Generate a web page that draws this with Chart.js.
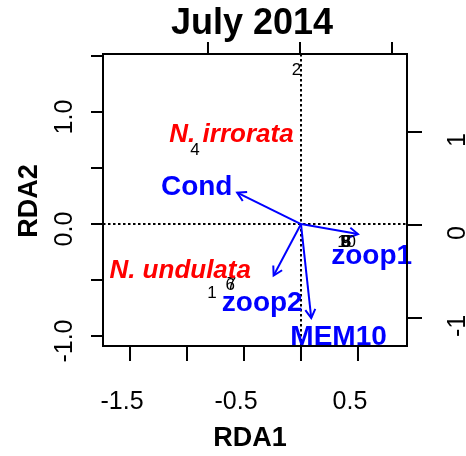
<!DOCTYPE html>
<html>
<head>
  <title>RDA biplot - July 2014</title>
  <script src="https://cdn.jsdelivr.net/npm/chart.js"></script>
  <style>
    body { margin: 0; background: #fff; }
    canvas { display: block; }
  </style>
</head>
<body>
  <canvas id="rdaChart" width="466" height="456"></canvas>

  <script>
    // site scores (RDA1, RDA2)
    const siteLabels = ["1", "2", "3", "4", "5", "6", "7", "8", "9", "10"];
    const siteX = [-0.78, -0.04, 0.39, -0.93, 0.40, -0.62, -0.61, 0.40, 0.39, 0.40];
    const siteY = [-0.62, 1.37, -0.16, 0.66, -0.16, -0.55, -0.54, -0.16, -0.16, -0.16];

    // species scores
    const speciesLabels = ["N. irrorata", "N. undulata"];
    const speciesX = [-0.61, -1.06];
    const speciesY = [0.80, -0.42];

    // explanatory variables (arrow tips + label positions)
    const envLabels = ["Cond", "zoop1", "zoop2", "MEM10"];
    const envX = [-0.56, 0.50, -0.24, 0.09];
    const envY = [0.28, -0.09, -0.46, -0.84];
    const envLabelX = [-0.915, 0.62, -0.34, 0.33];
    const envLabelY = [0.33, -0.29, -0.71, -1.01];

    // axes
    const xTicks = [-1.5, -1.0, -0.5, 0.0, 0.5];
    const xTickLabels = ["-1.5", "", "-0.5", "", "0.5"];
    const yTicks = [-1.0, -0.5, 0.0, 0.5, 1.0, 1.5];
    const yTickLabels = ["-1.0", "", "0.0", "", "1.0", ""];
    const topTicks = [-1, 0, 1];
    const rightTicks = [-1, 0, 1];
    const rightTickLabels = ["-1", "0", "1"];

    const FONT = '"Liberation Sans", Arial, Helvetica, sans-serif';
    const BLUE = "#0000FF";
    const RED = "#FF0000";

    const pts = (xs, ys) => xs.map((v, i) => ({ x: v, y: ys[i] }));

    const arrowSets = envLabels.map((name, i) => ({
      label: name,
      kind: "arrow",
      data: [{ x: 0, y: 0 }, { x: envX[i], y: envY[i] }],
      showLine: true,
      borderColor: BLUE,
      borderWidth: 2,
      pointRadius: 0
    }));

    const textSets = [
      { label: "sites", kind: "text", data: pts(siteX, siteY), texts: siteLabels,
        font: "17px " + FONT, color: "#000", pointRadius: 0 },
      { label: "species", kind: "text", data: pts(speciesX, speciesY), texts: speciesLabels,
        font: "italic bold 26px " + FONT, color: RED, pointRadius: 0 },
      { label: "env", kind: "text", data: pts(envLabelX, envLabelY), texts: envLabels,
        font: "bold 28px " + FONT, color: BLUE, pointRadius: 0 }
    ];

    function rotText(ctx, txt, x, y) {
      ctx.save();
      ctx.translate(x, y);
      ctx.rotate(-Math.PI / 2);
      ctx.fillText(txt, 0, 0);
      ctx.restore();
    }

    const biplotDecor = {
      id: "biplotDecor",
      beforeDatasetsDraw(chart) {
        const { ctx, chartArea: a, scales: { x, y } } = chart;
        ctx.save();
        ctx.strokeStyle = "#000";
        ctx.lineWidth = 2;
        ctx.setLineDash([2.5, 2.5]);
        ctx.beginPath();
        ctx.moveTo(a.left, y.getPixelForValue(0));
        ctx.lineTo(a.right, y.getPixelForValue(0));
        ctx.moveTo(x.getPixelForValue(0), a.top);
        ctx.lineTo(x.getPixelForValue(0), a.bottom);
        ctx.stroke();
        ctx.restore();
      },
      afterDatasetsDraw(chart) {
        const ctx = chart.ctx;
        ctx.save();
        chart.data.datasets.forEach((ds, i) => {
          const meta = chart.getDatasetMeta(i);
          if (ds.kind === "arrow") {
            const p0 = meta.data[0], p1 = meta.data[1];
            const ang = Math.atan2(p1.y - p0.y, p1.x - p0.x);
            const len = 10, spread = Math.PI / 6;
            ctx.strokeStyle = ds.borderColor;
            ctx.lineWidth = 2;
            ctx.beginPath();
            ctx.moveTo(p1.x - len * Math.cos(ang - spread), p1.y - len * Math.sin(ang - spread));
            ctx.lineTo(p1.x, p1.y);
            ctx.lineTo(p1.x - len * Math.cos(ang + spread), p1.y - len * Math.sin(ang + spread));
            ctx.stroke();
          }
        });
        chart.data.datasets.forEach((ds, i) => {
          if (ds.kind !== "text") return;
          const meta = chart.getDatasetMeta(i);
          ctx.font = ds.font;
          ctx.fillStyle = ds.color;
          ctx.textAlign = "center";
          ctx.textBaseline = "middle";
          meta.data.forEach((el, j) => ctx.fillText(ds.texts[j], el.x, el.y));
        });
        ctx.restore();
      },
      afterDraw(chart) {
        const { ctx, chartArea: a, scales } = chart;
        const { x, y, x2, y2 } = scales;
        ctx.save();
        ctx.strokeStyle = "#000";
        ctx.fillStyle = "#000";
        ctx.lineWidth = 2;
        ctx.strokeRect(a.left, a.top, a.right - a.left, a.bottom - a.top);

        ctx.beginPath();
        xTicks.forEach(v => {
          const px = x.getPixelForValue(v);
          ctx.moveTo(px, a.bottom); ctx.lineTo(px, a.bottom + 15);
        });
        yTicks.forEach(v => {
          const py = y.getPixelForValue(v);
          ctx.moveTo(a.left, py); ctx.lineTo(a.left - 12, py);
        });
        topTicks.forEach(v => {
          const px = x2.getPixelForValue(v);
          ctx.moveTo(px, a.top); ctx.lineTo(px, a.top - 12);
        });
        rightTicks.forEach(v => {
          const py = y2.getPixelForValue(v);
          ctx.moveTo(a.right, py); ctx.lineTo(a.right + 15, py);
        });
        ctx.stroke();

        ctx.font = "25px " + FONT;
        ctx.textAlign = "center";
        ctx.textBaseline = "alphabetic";
        xTicks.forEach((v, i) => {
          if (xTickLabels[i]) ctx.fillText(xTickLabels[i], x.getPixelForValue(v) - 8, 409);
        });
        yTicks.forEach((v, i) => {
          if (yTickLabels[i]) rotText(ctx, yTickLabels[i], 72, y.getPixelForValue(v) + 5);
        });
        rightTicks.forEach((v, i) => {
          rotText(ctx, rightTickLabels[i], 465, y2.getPixelForValue(v) + 8);
        });

        ctx.font = "bold 36px " + FONT;
        ctx.fillText("July 2014", 252, 34);
        ctx.font = "bold 27px " + FONT;
        ctx.fillText("RDA1", 250, 446);
        rotText(ctx, "RDA2", 37, 201);
        ctx.restore();
      }
    };

    new Chart(document.getElementById("rdaChart"), {
      type: "scatter",
      data: { datasets: [...arrowSets, ...textSets] },
      options: {
        responsive: false,
        animation: false,
        layout: { padding: { left: 103, right: 59, top: 54, bottom: 110 } },
        plugins: { legend: { display: false }, tooltip: { enabled: false }, title: { display: false } },
        scales: {
          x: { type: "linear", display: false, min: -1.737, max: 0.93 },
          y: { type: "linear", display: false, min: -1.089, max: 1.518 },
          x2: { type: "linear", axis: "x", position: "top", display: false, min: -2.141, max: 1.163 },
          y2: { type: "linear", axis: "y", position: "right", display: false, min: -1.301, max: 1.839 }
        }
      },
      plugins: [biplotDecor]
    });
  </script>
</body>
</html>
